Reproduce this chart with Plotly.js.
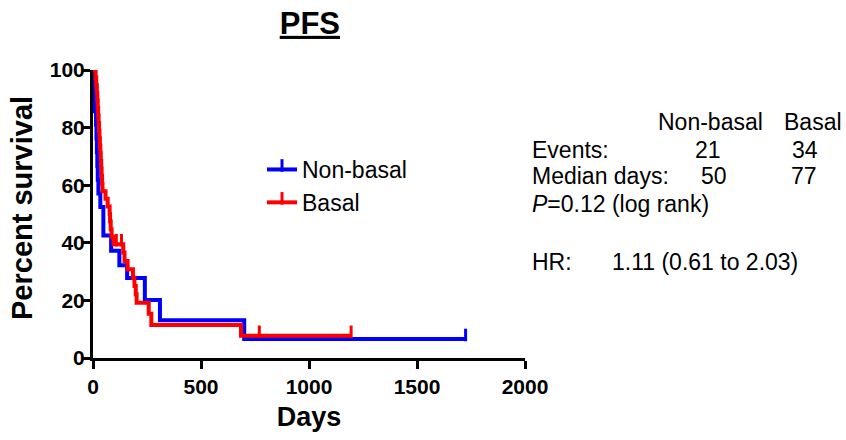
<!DOCTYPE html>
<html><head><meta charset="utf-8">
<script src="https://cdn.plot.ly/plotly-3.0.1.min.js"></script>
<style>html,body{margin:0;padding:0;background:#fff}#chart{width:846px;height:440px}</style>
</head><body><div id="chart"></div>
<script>
// ---- data ----
const groupNames = ["Non-basal", "Basal"];
const groupColors = ["#0000FF", "#FF0000"];

const nonBasalDays = [0, 2, 5, 8, 14, 16, 18, 20, 22, 25, 34, 48, 84, 122, 158, 240, 310, 700, 1725];
const nonBasalSurv = [100, 95.2, 90.5, 85.7, 81.0, 76.2, 71.4, 66.7, 61.9, 57.1, 52.4, 42.5, 37.2, 32.2, 27.8, 20.1, 13.1, 6.6, 6.6];
const nonBasalCensorDays = [1725];
const nonBasalCensorSurv = [6.6];

const basalDays = [0, 12, 15, 18, 20, 22, 24, 26, 28, 30, 32, 34, 36, 38, 40, 42, 44, 58, 68, 77, 79, 82, 86, 95, 108, 132, 140, 146, 160, 185, 192, 198, 202, 258, 270, 685, 770, 1195];
const basalSurv = [100, 97.4, 94.7, 92.1, 89.5, 86.8, 84.2, 81.6, 78.9, 76.3, 73.7, 71.1, 68.4, 65.8, 63.2, 60.5, 57.9, 55.3, 52.6, 50.0, 47.4, 44.7, 42.1, 39.5, 39.5, 39.5, 36.6, 33.7, 30.8, 27.9, 25.0, 22.1, 19.2, 15.4, 11.5, 7.7, 7.7, 7.7];
const basalCensorDays = [108, 132, 770, 1195];
const basalCensorSurv = [39.5, 39.5, 7.7, 7.7];

const xTickVals = [0, 500, 1000, 1500, 2000];
const yTickVals = [0, 20, 40, 60, 80, 100];

const tableHeader = ["Non-basal", "Basal"];
const eventsRow = ["21", "34"];
const medianRow = ["50", "77"];
const pText = "<i>P</i>=0.12 (log rank)";
const hrText = "1.11 (0.61 to 2.03)";

// ---- helpers ----
const FONT = "Liberation Sans, Arial, Helvetica, sans-serif";
// isolated points separated by gaps (leading gap keeps the legend glyph upright)
function gapped(a) { const out = [null]; a.forEach(v => { out.push(v); out.push(null); }); return out; }
// plot area in pixels: x 93..525, y 70..358
const X = px => (px - 93) / 432;
const Y = py => (358 - py) / 288;

function kmTraces(name, color, days, surv, cDays, cSurv, grp) {
  const gx = gapped(cDays), gy = gapped(cSurv);
  return [
    { x: days, y: surv, type: "scatter", mode: "lines", line: { shape: "hv", color: color, width: 4 },
      showlegend: false, legendgroup: grp, hoverinfo: "skip" },
    { x: gx, y: gy, type: "scatter", mode: "lines+markers", name: name,
      line: { color: color, width: 4 }, connectgaps: false, legendgroup: grp,
      marker: { symbol: "line-ns", size: 9, angle: gx.map((v, i) => i === 0 ? 0 : 180), standoff: 4, color: color,
        line: { color: color, width: 3 } },
      cliponaxis: false }
  ];
}

const data = [
  ...kmTraces(groupNames[0], groupColors[0], nonBasalDays, nonBasalSurv, nonBasalCensorDays, nonBasalCensorSurv, "a"),
  ...kmTraces(groupNames[1], groupColors[1], basalDays, basalSurv, basalCensorDays, basalCensorSurv, "b")
];

function ann(text, xpx, ypx, anchor, extra) {
  return Object.assign({ text: text, xref: "paper", yref: "paper", x: X(xpx), y: Y(ypx), xanchor: anchor || "left",
    yanchor: "middle", showarrow: false, font: { family: FONT, size: 23, color: "#000" } }, extra || {});
}

const annotations = [
  ann(tableHeader[0], 710, 122, "center"),
  ann(tableHeader[1], 813, 122, "center"),
  ann("Events:", 530, 150),
  ann(eventsRow[0], 708, 150, "center"),
  ann(eventsRow[1], 805, 150, "center"),
  ann("Median days:", 530, 176),
  ann(medianRow[0], 714, 176, "center"),
  ann(medianRow[1], 804, 176, "center"),
  ann(pText, 530, 204),
  ann("HR:", 530, 262),
  ann(hrText, 610, 262),
  ann("<b>Percent survival</b>", 22, 208, "center",
    { textangle: -90, font: { family: FONT, size: 29, color: "#000" } })
];

const axisCommon = {
  showline: true, linewidth: 3, linecolor: "#000", showgrid: false, zeroline: false,
  ticks: "outside", ticklen: 8, tickwidth: 3, tickcolor: "#000",
  tickfont: { family: FONT, size: 21, color: "#000", weight: "bold" }
};

const layout = {
  width: 846, height: 440,
  margin: { l: 93, r: 321, t: 70, b: 82 },
  paper_bgcolor: "#fff", plot_bgcolor: "#fff",
  title: { text: "<u>PFS</u>", font: { family: FONT, size: 31, color: "#000", weight: "bold" },
    xref: "paper", x: 0.502, xanchor: "center", yref: "container", y: 1 - 23 / 440, yanchor: "middle" },
  xaxis: Object.assign({}, axisCommon, { range: [0, 2000], tickvals: xTickVals,
    title: { text: "Days", standoff: 10, font: { family: FONT, size: 27, color: "#000", weight: "bold" } } }),
  yaxis: Object.assign({}, axisCommon, { range: [0, 100], tickvals: yTickVals, ticklabelstandoff: -7 }),
  showlegend: true,
  legend: { x: X(262), y: Y(148), xanchor: "left", yanchor: "top", bgcolor: "rgba(0,0,0,0)",
    font: { family: FONT, size: 23, color: "#000" }, tracegroupgap: 0, traceorder: "grouped" },
  annotations: annotations
};

Plotly.newPlot("chart", data, layout, { staticPlot: true, displayModeBar: false });
</script>
</body></html>
